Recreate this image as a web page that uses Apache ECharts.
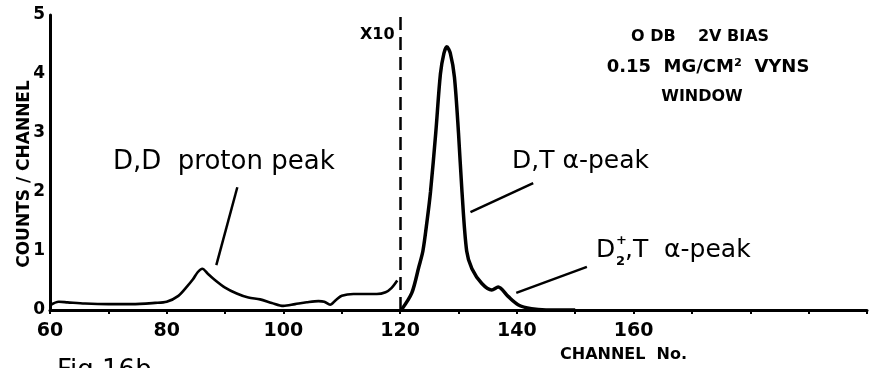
<!DOCTYPE html>
<html><head><meta charset="utf-8">
<script src="https://cdn.jsdelivr.net/npm/echarts@6/dist/echarts.min.js"></script>
<style>html,body{margin:0;padding:0;background:#fff}#c{width:870px;height:368px}</style>
</head><body><div id="c"></div>
<script>
// Left part (channels 60-120, shown x10)
const leftChannels = [60,61.5,63,66,70,74,78,80,82,83.5,84.5,85.3,86.1,87,88,90,92,94,96,98,100,102,104,106,107,108,109,110,112,114,116,117.5,118.5,119.5];
const leftCounts   = [0.08,0.14,0.13,0.11,0.1,0.1,0.12,0.14,0.24,0.4,0.52,0.64,0.7,0.62,0.53,0.38,0.28,0.21,0.18,0.12,0.07,0.1,0.13,0.15,0.14,0.09,0.17,0.24,0.27,0.27,0.27,0.3,0.37,0.5];
// Right part (channels 120-150)
const rightChannels = [120.2,122,123.2,123.9,124.6,125.2,126.1,126.9,127.5,128,128.6,129.3,130,130.6,131.4,132.3,134,135.7,136.8,138.5,140.2,142.5,145,150];
const rightCounts   = [0,0.29,0.73,1.0,1.5,2.0,3.0,4.0,4.35,4.46,4.35,3.95,3.0,2.0,1.0,0.7,0.45,0.34,0.39,0.23,0.09,0.02,0.0,0];
const xTickLabels = [60,80,100,120,140,160];
const yTickLabels = [0,1,2,3,4,5];
const scaleBoundary = 120;
// leader lines [from label end, to curve] in data units
const leaderDD = [[92.1,2.08],[88.5,0.76]];
const leaderDT = [[142.8,2.15],[132.05,1.66]];
const leaderD2T = [[152.0,0.73],[139.9,0.29]];

const zip = (a,b)=>a.map((x,i)=>[x,b[i]]);
const FONT = '"DejaVu Sans", sans-serif';
const chart = echarts.init(document.getElementById('c'), null, {renderer:'canvas'});
const leaderLine = (p)=>[{coord:p[0],symbol:'none'},{coord:p[1],symbol:'none'}];
const T = (x,y,text,font,align)=>({type:'text',x:x,y:y,style:{text:text,font:font,fill:'#000',align:align||'left',verticalAlign:'middle'}});
chart.setOption({
  animation:false,
  backgroundColor:'#fff',
  grid:{left:50,right:0,top:15,bottom:58,containLabel:false},
  xAxis:{type:'value',min:60,max:200,interval:10,
    axisLine:{lineStyle:{color:'#000',width:3}},
    axisTick:{show:true,length:4,lineStyle:{color:'#000',width:2}},
    splitLine:{show:false},
    axisLabel:{color:'#000',fontFamily:FONT,fontWeight:'bold',fontSize:19,margin:12,
      formatter:v=>xTickLabels.includes(v)?String(v):''}},
  yAxis:{type:'value',min:0,max:5,interval:1,
    axisLine:{show:true,lineStyle:{color:'#000',width:3}},
    axisTick:{show:false},splitLine:{show:false},
    axisLabel:{color:'#000',fontFamily:FONT,fontWeight:'bold',fontSize:17,margin:5,
      formatter:v=>yTickLabels.includes(v)?String(v):''}},
  series:[
    {type:'line',data:zip(leftChannels,leftCounts),smooth:0.3,showSymbol:false,
     lineStyle:{color:'#000',width:2.6},
     markLine:{silent:true,symbol:'none',label:{show:false},
       lineStyle:{color:'#000',width:2.5,type:'solid'},
       data:[leaderLine(leaderDD),leaderLine(leaderDT),leaderLine(leaderD2T)]}},
    {type:'line',data:zip(rightChannels,rightCounts),smooth:0.3,showSymbol:false,
     lineStyle:{color:'#000',width:3.5},
     markLine:{silent:true,symbol:'none',label:{show:false},
       lineStyle:{color:'#000',width:2.5,type:[13,7]},
       data:[{xAxis:scaleBoundary}]}}
  ],
  graphic:[
    T(360,35,'X10','bold 16px '+FONT),
    T(113,162,'D,D  proton peak','26px '+FONT),
    T(512,161,'D,T α-peak','25px '+FONT),
    T(596,250,'D','25px '+FONT),
    T(616,241,'+','bold 13px '+FONT),
    T(616,262,'2','bold 13px '+FONT),
    T(625,250,',T  α-peak','25px '+FONT),
    T(700,37,'O DB    2V BIAS','bold 16px '+FONT,'center'),
    T(708,67,'0.15  MG/CM²  VYNS','bold 18px '+FONT,'center'),
    T(702,97,'WINDOW','bold 16px '+FONT,'center'),
    T(560,355,'CHANNEL  No.','bold 16px '+FONT),
    T(57,371,'Fig 16b','26px '+FONT),
    {type:'text',x:25,y:174,rotation:Math.PI/2,style:{text:'COUNTS / CHANNEL',font:'bold 17px '+FONT,fill:'#000',align:'center',verticalAlign:'middle'}}
  ]
});
</script></body></html>
